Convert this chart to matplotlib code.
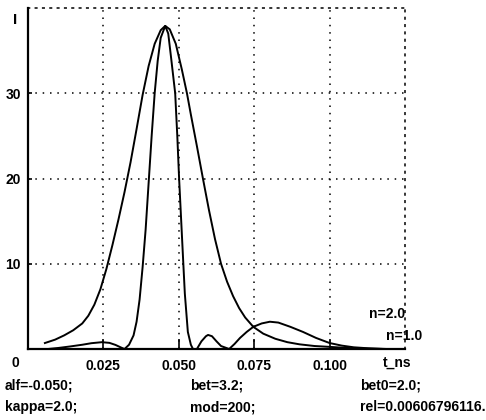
import matplotlib
matplotlib.use('Agg')
import matplotlib.pyplot as plt

plt.rcParams['font.family'] = ['Liberation Sans', 'DejaVu Sans']
plt.rcParams['font.weight'] = 'bold'

# широкий импульс (n=1.0)
t_wide = [0.0056, 0.009, 0.012, 0.015, 0.018, 0.020, 0.022, 0.024, 0.026, 0.028,
          0.030, 0.032, 0.034, 0.036, 0.038, 0.040, 0.042, 0.044, 0.0455, 0.047,
          0.049, 0.051, 0.0527, 0.054, 0.056, 0.058, 0.060, 0.062, 0.064, 0.066,
          0.068, 0.070, 0.072, 0.0747, 0.078, 0.082, 0.086, 0.090, 0.095, 0.100,
          0.106, 0.112, 0.118]
v_wide = [0.7, 1.1, 1.6, 2.2, 3.0, 3.9, 5.2, 7.0, 9.4, 12.2,
          15.2, 18.4, 21.9, 25.8, 29.8, 33.2, 35.8, 37.4, 37.9, 37.5,
          35.8, 32.8, 30.0, 27.5, 23.8, 20.0, 16.3, 12.9, 10.0, 7.9,
          6.2, 4.8, 3.7, 2.6, 1.8, 1.2, 0.8, 0.55, 0.35, 0.25,
          0.12, 0.05, 0.0]

# узкий импульс с боковыми лепестками (n=2.0)
t_narrow = [0.0066, 0.010, 0.014, 0.018, 0.021, 0.0245, 0.027, 0.029, 0.031, 0.032,
            0.0335, 0.035, 0.036, 0.037, 0.038, 0.039, 0.040, 0.041, 0.042, 0.043,
            0.044, 0.0455, 0.0465, 0.0475, 0.0488, 0.0495, 0.0501, 0.0508, 0.0515, 0.052,
            0.053, 0.054, 0.0547, 0.056, 0.0575, 0.059, 0.0597, 0.061, 0.0625, 0.064,
            0.0667, 0.0685, 0.0703, 0.0725, 0.0747, 0.0775, 0.0802, 0.083, 0.087, 0.0912,
            0.0955, 0.100, 0.104, 0.108, 0.113, 0.119]
v_narrow = [0.0, 0.12, 0.3, 0.5, 0.68, 0.8, 0.72, 0.48, 0.15, 0.0,
            0.5, 1.6, 3.2, 5.8, 9.6, 14.0, 19.5, 25.0, 30.0, 33.8,
            36.5, 37.9, 37.0, 34.0, 30.0, 25.0, 20.0, 15.0, 10.0, 6.5,
            2.0, 0.5, 0.0, 0.0, 0.9, 1.5, 1.65, 1.5, 0.9, 0.35,
            0.0, 0.6, 1.3, 2.0, 2.6, 3.0, 3.2, 3.1, 2.6, 2.0,
            1.3, 0.7, 0.4, 0.2, 0.08, 0.0]

x_ticks = [0.025, 0.050, 0.075, 0.100]
x_labels = ['0.025', '0.050', '0.075', '0.100']
y_ticks = [10, 20, 30]
y_labels = ['10', '20', '30']

params_row1 = ['alf=-0.050;', 'bet=3.2;', 'bet0=2.0;']
params_row2 = ['kappa=2.0;', 'mod=200;', 'rel=0.00606796116.']

fig = plt.figure(figsize=(4.86, 4.2), dpi=100)
ax = fig.add_axes([28 / 486, 71 / 420, 377 / 486, 341 / 420])

ax.plot(t_wide, v_wide, color='black', lw=1.4)
ax.plot(t_narrow, v_narrow, color='black', lw=1.4)

ax.set_xlim(0, 0.125)
ax.set_ylim(0, 40)

dots = (0, (1, 3.8))
for x in x_ticks:
    ax.axvline(x, color='black', lw=1.1, linestyle=dots)
for y in y_ticks:
    ax.axhline(y, color='black', lw=1.1, linestyle=dots)
for side in ['top', 'right']:
    ax.spines[side].set_linestyle(dots)
    ax.spines[side].set_linewidth(1.1)
for side in ['left', 'bottom']:
    ax.spines[side].set_linewidth(1.6)

fs = 10
ax.set_xticks(x_ticks)
ax.set_xticklabels(x_labels, fontsize=fs)
ax.set_yticks(y_ticks)
ax.set_yticklabels(y_labels, fontsize=fs)
ax.tick_params(axis='x', direction='in', length=7, width=1.2, pad=7)
ax.tick_params(axis='y', direction='in', length=3, width=1.2, pad=5)

fig.text(15 / 486, 1 - 20 / 420, 'I', fontsize=11, ha='center', va='center')
fig.text(15 / 486, 1 - 363 / 420, '0', fontsize=fs, ha='center', va='center')
fig.text(397 / 486, 1 - 363 / 420, 't_ns', fontsize=fs, ha='center', va='center')
fig.text(405 / 486, 1 - 314 / 420, 'n=2.0', fontsize=fs, ha='right', va='center')
fig.text(422 / 486, 1 - 336 / 420, 'n=1.0', fontsize=fs, ha='right', va='center')

x_cols = [5 / 486, 190 / 486, 360 / 486]
for x, s in zip(x_cols, params_row1):
    fig.text(x, 1 - 386 / 420, s, fontsize=fs, ha='left', va='center')
for x, s in zip(x_cols, params_row2):
    fig.text(x, 1 - 407 / 420, s, fontsize=fs, ha='left', va='center')

fig.savefig('out.png', dpi=100)
